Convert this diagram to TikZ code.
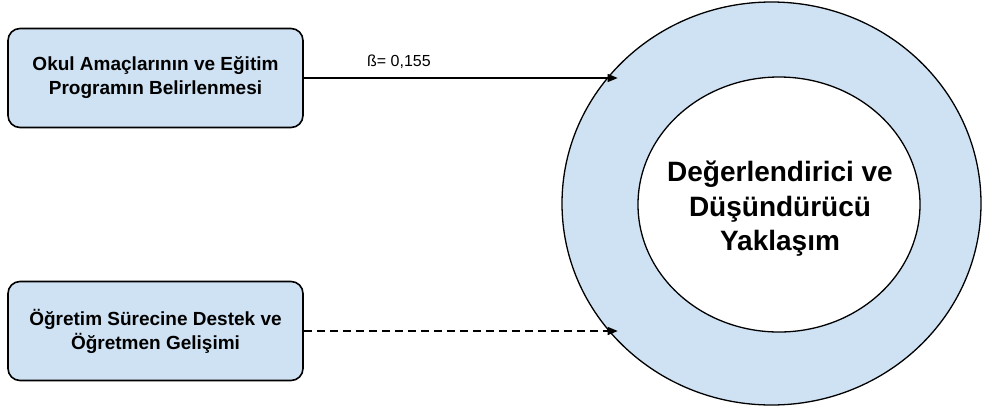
\documentclass[tikz,border=0pt]{standalone}
\usepackage{fontspec}
\setmainfont{Liberation Sans}
\usetikzlibrary{shapes.geometric,arrows.meta}
\definecolor{acikmavi}{RGB}{207,226,243}
\tikzset{
	kutu/.style={draw,line width=1.6pt,fill=acikmavi,rounded corners=12pt,
		minimum width=295pt,minimum height=99pt,align=center,
		font=\fontsize{19}{24}\selectfont\bfseries},
	ok/.style={-{Triangle[length=10pt,width=8pt]},line width=1.2pt,shorten >=-7pt}
}
\begin{document}
\begin{tikzpicture}[x=1pt,y=-1pt]
	\useasboundingbox (0,0) rectangle (984,410);
	% iki halka: dis halka mavi, ic halka beyaz
	\node[draw,ellipse,line width=1.3pt,fill=acikmavi,inner sep=0pt,
		minimum width=419pt,minimum height=403pt] (halka) at (771.5,203.5) {};
	\node[draw,ellipse,line width=1.3pt,fill=white,inner sep=0pt,
		minimum width=282pt,minimum height=255pt] (ic) at (779,204.5) {};
	\node[align=center,font=\fontsize{28}{34.5}\selectfont\bfseries] (yaklasim) at (780,209)
		{Değerlendirici ve\\Düşündürücü\\Yaklaşım};
	% sol taraftaki kutular
	\node[kutu] (okul) at (155.5,78) {Okul Amaçlarının ve Eğitim\\Programın Belirlenmesi};
	\node[kutu] (destek) at (155.5,331) {Öğretim Sürecine Destek ve\\Öğretmen Gelişimi};
	\draw[ok] (okul.east) -- (okul.east -| halka.141)
		node[above=6pt,pos=.31,font=\fontsize{16}{19}\selectfont] (beta) {ß= 0,155};
	\draw[ok,dash pattern=on 8pt off 5pt] (destek.east) -- (destek.east -| halka.219);
\end{tikzpicture}
\end{document}
